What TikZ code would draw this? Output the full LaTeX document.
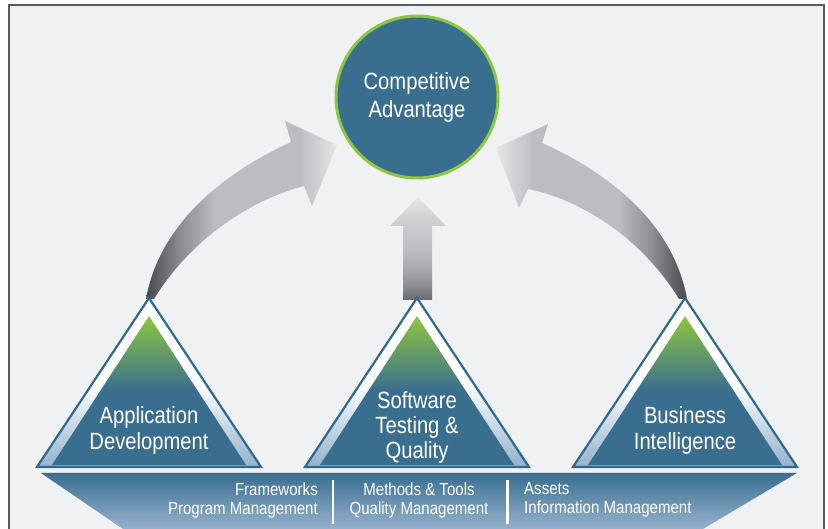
\documentclass[tikz,border=0pt]{standalone}
\usepackage{fontspec}
\setmainfont{Liberation Sans}[FakeStretch=0.86]
\usepackage{tikz}
\usetikzlibrary{positioning}
\definecolor{bgGray}{HTML}{F0F1F3}
\definecolor{frameGray}{HTML}{5A5B5D}
\definecolor{advBlue}{HTML}{3A6E8F}
\definecolor{advGreen}{HTML}{8DC63F}
\definecolor{triEdge}{HTML}{2D6A8E}
\definecolor{triBand}{HTML}{93B2CD}
\definecolor{bannerTop}{HTML}{3A6E90}
\definecolor{bannerLow}{HTML}{95B2CD}
\definecolor{arrowDark}{HTML}{4A4A4D}
\definecolor{arrowDim}{HTML}{6D6E71}
\definecolor{arrowLow}{HTML}{6E6F72}
\definecolor{arrowGray}{HTML}{8C8D90}
\definecolor{arrowSoft}{HTML}{A5A6A8}
\definecolor{arrowMid}{HTML}{BCBDC0}
\definecolor{arrowPale}{HTML}{D0D1D3}
\definecolor{arrowLight}{HTML}{E6E6E8}
\pgfdeclarehorizontalshading{sideShade}{100bp}{color(0bp)=(arrowDark); color(25bp)=(arrowDark);
	color(30bp)=(arrowDim); color(34bp)=(arrowGray); color(43bp)=(arrowMid); color(65bp)=(arrowMid);
	color(75bp)=(arrowLight); color(100bp)=(arrowLight)}
\pgfdeclareverticalshading{upShade}{100bp}{color(0bp)=(arrowLow); color(26bp)=(arrowLow);
	color(32bp)=(arrowGray); color(39bp)=(arrowSoft); color(49bp)=(arrowMid); color(65bp)=(arrowPale);
	color(75bp)=(arrowLight); color(100bp)=(arrowLight)}
\tikzset{
	big label/.style={text=white, align=center, inner sep=0, font=\fontsize{23.5}{26}\selectfont},
	small label/.style={text=white, inner sep=0, font=\fontsize{17.5}{19}\selectfont},
	tri outer/.style={draw=triEdge, line width=2.2, top color=white, bottom color=triBand, middle color=white},
	tri inner/.style={top color=advGreen, bottom color=advBlue, middle color=advBlue},
}

\begin{document}
\begin{tikzpicture}[x=1pt, y=-1pt]
	\useasboundingbox (0,0) rectangle (828,529);
	\fill[white] (0,0) rectangle (828,529);
	\fill[bgGray] (9,5) rectangle (824,529);
	\draw[frameGray, line width=2] (9,529) -- (9,5) -- (824,5) -- (824,529);

	\node[circle, fill=advBlue, draw=advGreen, line width=3, minimum size=162,
		big label, font=\fontsize{23.5}{28}\selectfont] (adv) at (417,97) {Competitive\\Advantage};

	\shade[shading=sideShade]
		(146,299) .. controls (160,220) and (230,170) .. (291,142)
		-- (285,121) -- (337,145) -- (312,206) -- (304,186)
		.. controls (250,200) and (190,240) .. (154,299) -- cycle;
	\shade[shading=sideShade, shading angle=180]
		(687,299) .. controls (673,220) and (603,170) .. (542,143)
		-- (548,124) -- (496,148) -- (519,208) -- (528,189)
		.. controls (583,200) and (643,240) .. (679,299) -- cycle;
	\shade[shading=upShade]
		(403,300) -- (403,226) -- (390,226) -- (418,197)
		-- (446,226) -- (432,226) -- (432,300) -- cycle;

	\foreach \cx in {149,417,685} {
		\shade[tri outer] (\cx,298) -- ({\cx+112},467) -- ({\cx-112},467) -- cycle;
		\shade[tri inner] (\cx,316) -- ({\cx+97},465) -- ({\cx-97},465) -- cycle;
	}

	\shade[top color=bannerTop, bottom color=bannerLow]
		(41,473) -- (797,473) -- (703,529) -- (123,529) -- cycle;
	\draw[white!75!bannerTop, line width=1.2] (41,472.5) -- (797,472.5);
	\fill[white] (331.5,480) rectangle (334,524);
	\fill[white] (506,480) rectangle (508.5,524);

	\node[big label] (appTxt) at (149,430) {Application\\Development};
	\node[big label, font=\fontsize{23.5}{25}\selectfont] (swtTxt) at (417,427) {Software\\Testing \&\\Quality};
	\node[big label] (biTxt) at (685,430) {Business\\Intelligence};

	\node[small label, align=right, anchor=east] (fwTxt) at (318,500) {Frameworks\\Program Management};
	\node[small label, align=center] (mtTxt) at (419,500) {Methods \& Tools\\Quality Management};
	\node[small label, align=left, anchor=west] (asTxt) at (524,500) {Assets\\Information Management};
\end{tikzpicture}
\end{document}
